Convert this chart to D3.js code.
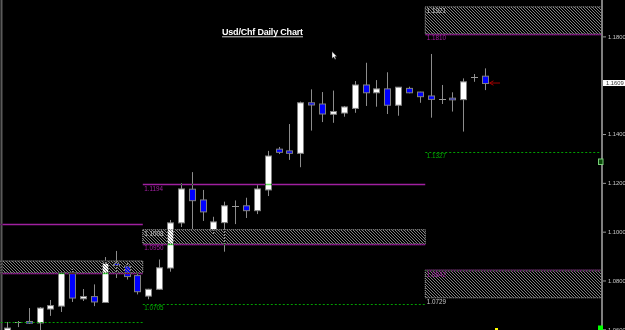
<!DOCTYPE html>
<html>
<head>
<meta charset="utf-8">
<script src="https://cdn.jsdelivr.net/npm/d3@7"></script>
<style>
  body { margin: 0; background: #000; overflow: hidden; }
  text { font-family: "Liberation Sans", Arial, sans-serif; }
</style>
</head>
<body>
<script>
// daily candles, oldest first
var opens  = [1.0589, 1.0631, 1.0632, 1.0626, 1.0683, 1.0695, 1.0831, 1.0725, 1.0734, 1.0710,
              1.0870, 1.0859, 1.0820, 1.0736, 1.0764, 1.0851, 1.1036, 1.1174, 1.1130, 1.1007,
              1.1037, 1.1107, 1.1106, 1.1086, 1.1171, 1.1338, 1.1331, 1.1321, 1.1528, 1.1523,
              1.1481, 1.1486, 1.1505, 1.1601, 1.1569, 1.1585, 1.1518, 1.1587, 1.1572, 1.1556,
              1.1544, 1.1547, 1.1541, 1.1635, 1.1637];
var highs  = [1.0630, 1.0634, 1.0687, 1.0691, 1.0720, 1.0832, 1.0847, 1.0765, 1.0784, 1.0896,
              1.0921, 1.0872, 1.0833, 1.0766, 1.0886, 1.1048, 1.1199, 1.1244, 1.1171, 1.1061,
              1.1123, 1.1128, 1.1139, 1.1191, 1.1331, 1.1347, 1.1441, 1.1533, 1.1583, 1.1572,
              1.1578, 1.1515, 1.1617, 1.1692, 1.1621, 1.1653, 1.1592, 1.1594, 1.1573, 1.1728,
              1.1601, 1.1571, 1.1628, 1.1646, 1.1669];
var lows   = [1.0577, 1.0609, 1.0622, 1.0597, 1.0655, 1.0671, 1.0712, 1.0716, 1.0695, 1.0708,
              1.0810, 1.0804, 1.0743, 1.0723, 1.0761, 1.0836, 1.1019, 1.1011, 1.1044, 1.0988,
              1.0918, 1.1031, 1.1056, 1.1072, 1.1146, 1.1318, 1.1294, 1.1264, 1.1414, 1.1449,
              1.1446, 1.1471, 1.1487, 1.1515, 1.1512, 1.1482, 1.1475, 1.1567, 1.1528, 1.1467,
              1.1523, 1.1492, 1.1410, 1.1614, 1.1580];
var closes = [1.0605, 1.0631, 1.0625, 1.0687, 1.0697, 1.0831, 1.0728, 1.0734, 1.0712, 1.0870,
              1.0861, 1.0816, 1.0754, 1.0764, 1.0852, 1.1036, 1.1175, 1.1127, 1.1081, 1.1040,
              1.1106, 1.1107, 1.1086, 1.1175, 1.1310, 1.1325, 1.1321, 1.1528, 1.1519, 1.1482,
              1.1492, 1.1511, 1.1601, 1.1569, 1.1585, 1.1518, 1.1592, 1.1569, 1.1553, 1.1542,
              1.1544, 1.1540, 1.1614, 1.1635, 1.1607];

// pivot periods (candle index where each one starts)
var periodStart = [-12, 12.5, 38.5];
var periodEnd   = [12.5, 38.5, null];

// [period, value]
var purpleLevels = [[0, 1.1031], [0, 1.0831], [1, 1.1194], [1, 1.0950], [2, 1.1810], [2, 1.0842]];
var greenLevels  = [[0, 1.0630], [1, 1.0705], [2, 1.1327]];
// [period, top, bottom]
var zones = [[0, 1.0880, 1.0831], [1, 1.1008, 1.0950], [2, 1.1921, 1.1810], [2, 1.0842, 1.0729]];

var yTicks = [1.06, 1.08, 1.10, 1.12, 1.14, 1.18];
var lastPrice = 1.1609;
var title = "Usd/Chf Daily Chart";

var svgWidth = 625;
var svgHeight = 330;
var axisX = 602;

var svg = d3.select("body")
  .append("svg")
  .attr("width", svgWidth)
  .attr("height", svgHeight);

svg.append("rect")
  .attr("width", svgWidth)
  .attr("height", svgHeight)
  .attr("fill", "#000");

// hatch pattern for the zones
svg.append("defs").append("pattern")
  .attr("id", "hatch")
  .attr("patternUnits", "userSpaceOnUse")
  .attr("width", 3)
  .attr("height", 3)
  .append("path")
  .attr("d", "M-1,-1 L4,4 M-1,2 L1,4 M2,-1 L4,1")
  .attr("stroke", "#8e8e8e")
  .attr("stroke-width", 0.9);

var x = d3.scaleLinear().domain([0, 44]).range([7, 485]);
var y = d3.scaleLinear().domain([1.06, 1.18]).range([329.3, 36.4]);

function px0(p) { return x(periodStart[p]); }
function px1(p) { return periodEnd[p] === null ? axisX : x(periodEnd[p]); }
function cx(i) { return Math.round(x(i)) + 0.5; }

// left window edge
svg.append("line")
  .attr("x1", 1.5).attr("x2", 1.5)
  .attr("y1", 0).attr("y2", svgHeight)
  .attr("stroke", "#5a5a5a")
  .attr("stroke-width", 2);

var candles = d3.range(opens.length).map(function (i) {
  return { i: i, o: opens[i], h: highs[i], l: lows[i], c: closes[i] };
});

var chart = svg.append("g");

// wicks
chart.selectAll(".wick")
  .data(candles)
  .enter()
  .append("line")
  .attr("x1", d => cx(d.i))
  .attr("x2", d => cx(d.i))
  .attr("y1", d => y(d.h))
  .attr("y2", d => y(d.l))
  .attr("stroke", "#8c8c8c")
  .attr("stroke-width", 1);

// dojis
chart.selectAll(".doji")
  .data(candles.filter(d => d.o === d.c))
  .enter()
  .append("line")
  .attr("x1", d => cx(d.i) - 3.5)
  .attr("x2", d => cx(d.i) + 3.5)
  .attr("y1", d => Math.round(y(d.o)) + 0.5)
  .attr("y2", d => Math.round(y(d.o)) + 0.5)
  .attr("stroke", "#9a9a9a")
  .attr("stroke-width", 1);

// bodies
chart.selectAll(".body")
  .data(candles.filter(d => d.o !== d.c))
  .enter()
  .append("rect")
  .attr("x", d => cx(d.i) - 3)
  .attr("y", d => y(Math.max(d.o, d.c)))
  .attr("width", 6)
  .attr("height", d => Math.max(1.5, Math.abs(y(d.o) - y(d.c))))
  .attr("fill", d => d.c > d.o ? "#ffffff" : "#0000ff")
  .attr("stroke", "#808080")
  .attr("stroke-width", 1);

// hatched zones
var zoneG = svg.append("g").style("mix-blend-mode", "difference");
zoneG.selectAll("rect")
  .data(zones)
  .enter()
  .append("rect")
  .attr("x", d => px0(d[0]))
  .attr("y", d => y(d[1]))
  .attr("width", d => px1(d[0]) - px0(d[0]))
  .attr("height", d => y(d[2]) - y(d[1]))
  .attr("fill", "url(#hatch)")
  .attr("stroke", "#b0b0b0")
  .attr("stroke-width", 1)
  .attr("stroke-dasharray", "1,1");

// purple pivot lines
svg.append("g").style("mix-blend-mode", "difference")
  .selectAll("line")
  .data(purpleLevels)
  .enter()
  .append("line")
  .attr("x1", d => px0(d[0]))
  .attr("x2", d => px1(d[0]))
  .attr("y1", d => Math.round(y(d[1])) + 0.5)
  .attr("y2", d => Math.round(y(d[1])) + 0.5)
  .attr("stroke", "#a020a0")
  .attr("stroke-width", 1.3);

// green dashed lines
svg.append("g")
  .selectAll("line")
  .data(greenLevels)
  .enter()
  .append("line")
  .attr("x1", d => px0(d[0]))
  .attr("x2", d => px1(d[0]))
  .attr("y1", d => Math.round(y(d[1])) + 0.5)
  .attr("y2", d => Math.round(y(d[1])) + 0.5)
  .attr("stroke", "#00a000")
  .attr("stroke-width", 1)
  .attr("stroke-dasharray", "2,2");

// level labels (the first period starts off screen, so its labels are not shown)
var labels = [];
purpleLevels.forEach(d => labels.push({ p: d[0], v: d[1], col: "#a020a0" }));
greenLevels.forEach(d => labels.push({ p: d[0], v: d[1], col: "#00b000" }));
zones.forEach(function (z) {
  [z[1], z[2]].forEach(function (v) {
    var isPurple = purpleLevels.some(d => d[0] === z[0] && d[1] === v);
    if (!isPurple) labels.push({ p: z[0], v: v, col: "#c8c8c8" });
  });
});

svg.append("g")
  .selectAll("text")
  .data(labels.filter(d => px0(d.p) >= 0))
  .enter()
  .append("text")
  .attr("x", d => px0(d.p) + 1.5)
  .attr("y", d => y(d.v) + 6.5)
  .attr("fill", d => d.col)
  .style("font-size", "6.3px")
  .text(d => d.v.toFixed(4));

// price axis
svg.append("line")
  .attr("x1", axisX).attr("x2", axisX)
  .attr("y1", 0).attr("y2", svgHeight)
  .attr("stroke", "#7f7f7f")
  .attr("stroke-width", 2);

var yAxis = d3.axisRight(y)
  .tickValues(yTicks)
  .tickSize(3)
  .tickPadding(2)
  .tickFormat(d3.format(".4f"));

var axisG = svg.append("g")
  .attr("transform", `translate(${axisX + 1}, 0)`)
  .call(yAxis);
axisG.select(".domain").remove();
axisG.selectAll(".tick line").attr("stroke", "#9a9a9a");
axisG.selectAll(".tick text")
  .attr("fill", "#c8c8c8")
  .style("font-size", "5.8px")
  .style("font-family", "'Liberation Sans', Arial, sans-serif");

// last price box
svg.append("rect")
  .attr("x", axisX + 1)
  .attr("y", y(lastPrice) - 3)
  .attr("width", 22)
  .attr("height", 6)
  .attr("fill", "#ffffff");
svg.append("text")
  .attr("x", axisX + 4)
  .attr("y", y(lastPrice) + 2.2)
  .attr("fill", "#333")
  .style("font-size", "5.8px")
  .text(lastPrice.toFixed(4));

// small markers near the axis
svg.append("rect")
  .attr("x", 598.5).attr("y", 159)
  .attr("width", 4.5).attr("height", 5.5)
  .attr("fill", "#0a4a0a")
  .attr("stroke", "#7c7")
  .attr("stroke-width", 1);
svg.append("rect")
  .attr("x", 598).attr("y", 325.5)
  .attr("width", 5).attr("height", 5)
  .attr("fill", "#00ff00");
svg.append("rect")
  .attr("x", 495).attr("y", 328)
  .attr("width", 3).attr("height", 2)
  .attr("fill", "#ffff00");

// last price arrow
svg.append("path")
  .attr("d", "M500," + y(lastPrice) + " H490 M493.5," + (y(lastPrice) - 2.2) +
    " L489.5," + y(lastPrice) + " L493.5," + (y(lastPrice) + 2.2))
  .attr("fill", "none")
  .attr("stroke", "#a00000")
  .attr("stroke-width", 1);

// title
svg.append("text")
  .attr("x", 262.5)
  .attr("y", 35.3)
  .attr("text-anchor", "middle")
  .attr("fill", "#ffffff")
  .style("font-size", "9px")
  .style("font-weight", "bold")
  .attr("textLength", 81)
  .text(title);
svg.append("line")
  .attr("x1", 222).attr("x2", 303)
  .attr("y1", 36.8).attr("y2", 36.8)
  .attr("stroke", "#ffffff")
  .attr("stroke-width", 0.8);

// mouse pointer left in the screenshot
svg.append("path")
  .attr("d", "M332,51.5 L332,58.5 L333.7,57 L335,59.6 L336,59.1 L334.8,56.6 L337,56.6 Z")
  .attr("fill", "#ffffff")
  .attr("stroke", "#000")
  .attr("stroke-width", 0.4);
</script>
</body>
</html>
